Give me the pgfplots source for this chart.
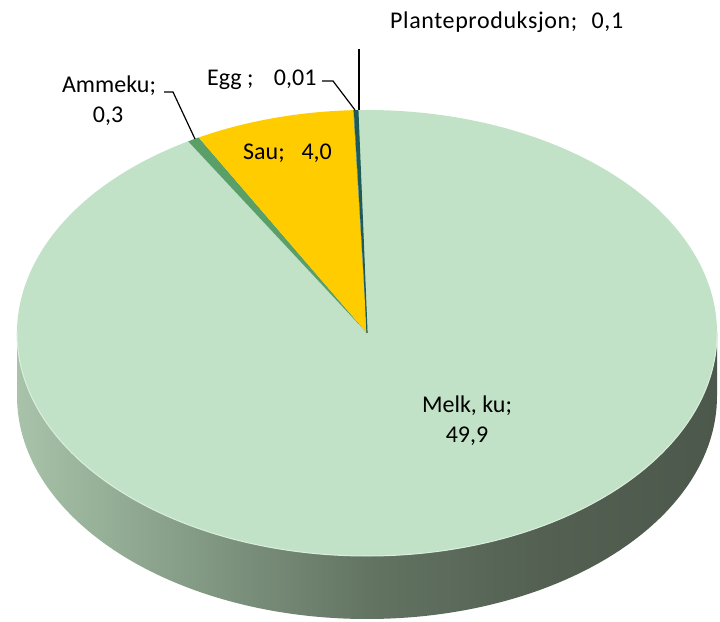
\documentclass[border=0pt]{standalone}
\usepackage{fontspec}
\setmainfont{Carlito}
\newfontfamily\spacedfont[LetterSpace=2.5]{Carlito}
\usepackage{pgfplots}
\usepackage{pgfplotstable}
\pgfplotsset{compat=1.18}

\definecolor{melk}{HTML}{C2E2C7}
\definecolor{sau}{HTML}{FFCC00}
\definecolor{ammeku}{HTML}{5A9F68}
\definecolor{egg}{HTML}{2F6F5A}
\definecolor{plante}{HTML}{1E5A58}
\definecolor{sideA}{HTML}{A8C3A9}
\definecolor{sideB}{HTML}{849B85}
\definecolor{sideC}{HTML}{637463}
\definecolor{sideD}{HTML}{536052}
\definecolor{sideE}{HTML}{4C584B}
\pgfdeclarehorizontalshading{sideshade}{100bp}{color(0bp)=(sideA); color(25bp)=(sideA); color(37.5bp)=(sideB); color(50bp)=(sideC); color(62.5bp)=(sideD); color(75bp)=(sideE); color(100bp)=(sideE)}

\pgfplotstableread{
label value
Plante 0.1
Egg 0.01
Sau 4.0
Ammeku 0.3
Melk 49.9
}\piedata
\pgfplotstablegetelem{0}{value}\of\piedata \let\vPlante\pgfplotsretval
\pgfplotstablegetelem{1}{value}\of\piedata \let\vEgg\pgfplotsretval
\pgfplotstablegetelem{2}{value}\of\piedata \let\vSau\pgfplotsretval
\pgfplotstablegetelem{3}{value}\of\piedata \let\vAmmeku\pgfplotsretval
\pgfplotstablegetelem{4}{value}\of\piedata \let\vMelk\pgfplotsretval
\pgfmathsetmacro\total{\vPlante+\vEgg+\vSau+\vAmmeku+\vMelk}
\pgfmathsetmacro\aA{91.5}
\pgfmathsetmacro\aB{\aA+360*\vPlante/\total}
\pgfmathsetmacro\aC{\aB+360*\vEgg/\total}
\pgfmathsetmacro\aD{\aC+360*\vSau/\total}
\pgfmathsetmacro\aE{\aD+360*\vAmmeku/\total}
\pgfmathsetmacro\aF{\aA+360}

\begin{document}%
\begin{tikzpicture}[font=\fontsize{24}{29}\selectfont]
\begin{axis}[x=1pt,y=1pt,xmin=0,xmax=720,ymin=0,ymax=621,
  hide axis,clip=false,disabledatascaling]
\path (axis cs:0,0) rectangle (axis cs:720,621);
% side of the pie
\shade[shading=sideshade,overlay] (axis cs:17,288) -- ++(0pt,-63pt)
  arc[start angle=180,end angle=360,x radius=350pt,y radius=223pt]
  -- ++(0pt,63pt)
  arc[start angle=0,end angle=-180,x radius=350pt,y radius=223pt] -- cycle;
% top sectors
\fill[melk,overlay] (axis cs:367,288) -- ++(\aE:350pt and 223pt)
  arc[start angle=\aE,end angle=\aF,x radius=350pt,y radius=223pt] -- cycle;
\fill[ammeku,overlay] (axis cs:367,288) -- ++(\aD:350pt and 223pt)
  arc[start angle=\aD,end angle=\aE,x radius=350pt,y radius=223pt] -- cycle;
\fill[sau,overlay] (axis cs:367,288) -- ++(\aC:350pt and 223pt)
  arc[start angle=\aC,end angle=\aD,x radius=350pt,y radius=223pt] -- cycle;
\fill[egg,overlay] (axis cs:367,288) -- ++(\aB:350pt and 223pt)
  arc[start angle=\aB,end angle=\aC,x radius=350pt,y radius=223pt] -- cycle;
\fill[plante,overlay] (axis cs:367,288) -- ++(\aA:350pt and 223pt)
  arc[start angle=\aA,end angle=\aB,x radius=350pt,y radius=223pt] -- cycle;
\draw[plante,line width=1.2pt,overlay] (axis cs:367,288) -- ++(\aA:350pt and 223pt);
\draw[melk!60!white,line width=1pt,overlay] (axis cs:17,288)
  arc[start angle=180,end angle=360,x radius=350pt,y radius=223pt];
% leader lines
\draw[black,line width=1.2pt] (axis cs:359,572) -- (axis cs:359,511);
\draw[black,line width=1.2pt] (axis cs:322,540) -- (axis cs:333,540) -- (axis cs:355,511);
\draw[black,line width=1.2pt] (axis cs:164,529) -- (axis cs:173,529) -- (axis cs:195,482);
% labels
\node[anchor=base west,inner sep=0pt] at (axis cs:390,592) {\spacedfont Planteproduksjon;\hspace{0.6em}0,1};
\node[anchor=base west,inner sep=0pt] at (axis cs:207,535) {Egg ;\hspace{0.85em}0,01};
\node[anchor=base,inner sep=0pt] at (axis cs:109,528) {Ammeku;};
\node[anchor=base,inner sep=0pt] at (axis cs:108,498) {0,3};
\node[anchor=base west,inner sep=0pt] at (axis cs:243,461) {Sau;\hspace{0.7em}4,0};
\node[anchor=base,inner sep=0pt] at (axis cs:467,208) {Melk, ku;};
\node[anchor=base,inner sep=0pt] at (axis cs:467,178) {49,9};
\end{axis}
\end{tikzpicture}%
\end{document}
